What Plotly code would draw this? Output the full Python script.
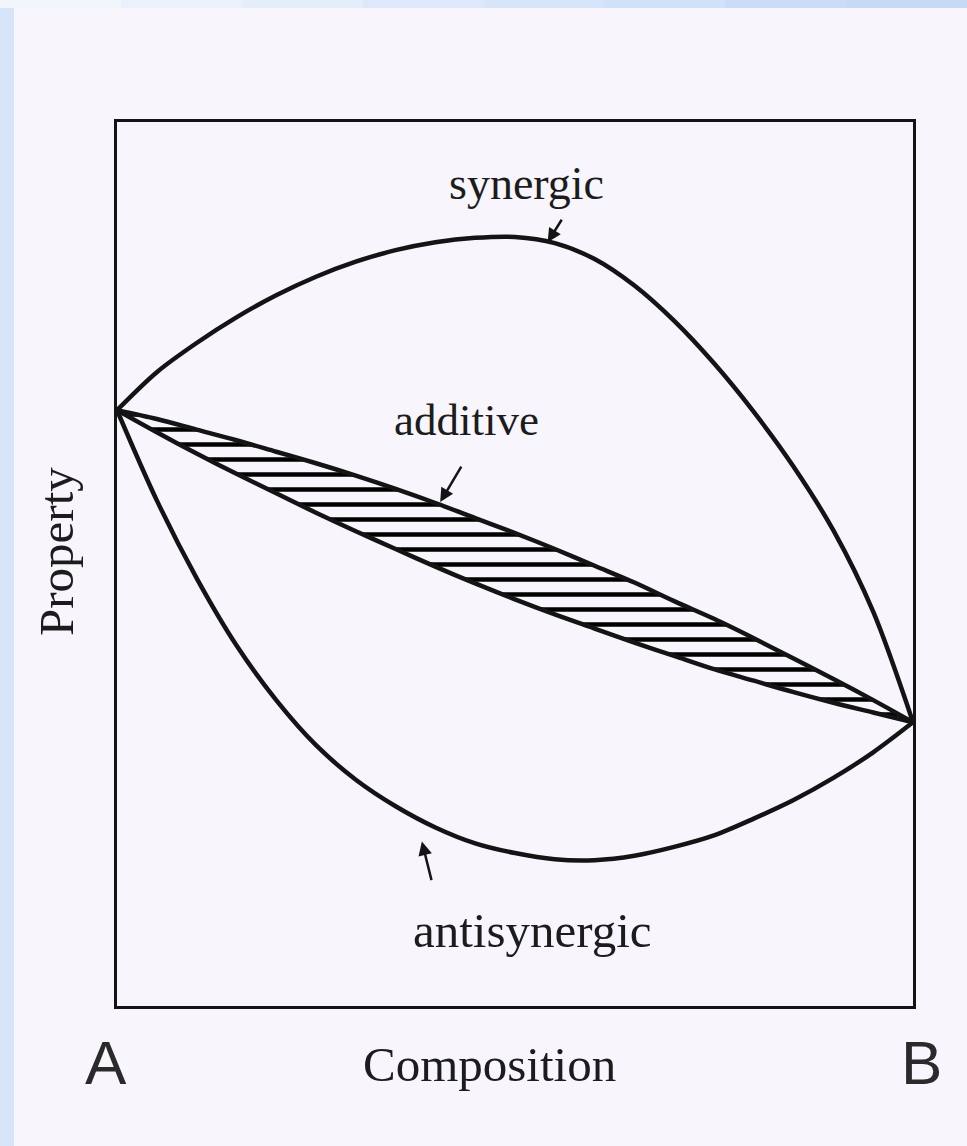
import plotly.graph_objects as go

# Composition axis, A (0) to B (100)
composition = [0, 5, 10, 15, 20, 25, 30, 35, 40, 45, 50,
               55, 60, 65, 70, 75, 80, 85, 90, 95, 100]

# Property values of the blend for each behaviour
synergic = [67.4, 71.7, 75.0, 77.9, 80.4, 82.5, 84.2, 85.5, 86.4, 86.9, 87.0,
            86.3, 84.5, 81.5, 77.5, 72.7, 67.2, 61.0, 53.8, 44.6, 32.1]
antisynergic = [67.4, 57.2, 48.4, 40.8, 34.6, 29.5, 25.6, 22.6, 20.2, 18.4, 17.3,
                16.6, 16.5, 17.0, 18.0, 19.3, 21.2, 23.3, 25.8, 28.7, 32.1]
additive_upper = [67.4, 66.4, 65.2, 64.0, 62.7, 61.4, 60.0, 58.5, 56.9, 55.2, 53.5,
                  51.7, 49.8, 47.9, 45.8, 43.8, 41.6, 39.3, 37.0, 34.6, 32.1]
additive_lower = [67.4, 64.9, 62.5, 60.2, 58.0, 55.8, 53.7, 51.7, 49.7, 47.8, 46.0,
                  44.3, 42.7, 41.1, 39.6, 38.1, 36.8, 35.5, 34.3, 33.2, 32.1]

BG = "#f8f6fc"
INK = "#141414"
SERIF = "Liberation Serif"

fig = go.Figure()

curve = dict(color=INK, width=4.5, shape="spline", smoothing=0.9)

# hatched additive band
fig.add_trace(go.Scatter(x=composition, y=additive_lower, mode="lines", line=curve,
                         hoverinfo="skip", showlegend=False))
fig.add_trace(go.Scatter(x=composition, y=additive_upper, mode="lines", line=curve,
                         fill="tonexty", fillcolor=BG,
                         fillpattern=dict(shape="-", size=15, solidity=0.3,
                                          fgcolor="#000000", fgopacity=1, bgcolor=BG),
                         hoverinfo="skip", showlegend=False))
fig.add_trace(go.Scatter(x=composition, y=synergic, mode="lines", line=curve,
                         hoverinfo="skip", showlegend=False))
fig.add_trace(go.Scatter(x=composition, y=antisynergic, mode="lines", line=curve,
                         hoverinfo="skip", showlegend=False))

# plot box in page pixels, used to place the outer labels
L, R, T, B = 117, 913, 122, 1006
def px_x(p):
    return (p - L) / (R - L)
def px_y(p):
    return (B - p) / (B - T)

label_font = dict(family=SERIF, size=46, color="#1c1c1c")
big_font = dict(family=SERIF, size=49, color="#1c1c1c")
letter_font = dict(family="Liberation Sans", size=62, color="#2a2a2a")
arrow = dict(showarrow=True, arrowhead=2, arrowsize=1.1, arrowwidth=2.5, arrowcolor=INK)
centred = dict(showarrow=False, xanchor="center", yanchor="middle")

annotations = [
    dict(x=54.1, y=86.4, ax=15, ay=-24, text="", **arrow),
    dict(x=40.6, y=57.0, ax=22, ay=-37, text="", **arrow),
    dict(x=38.3, y=18.6, ax=10, ay=40, text="", **arrow),
    dict(x=51.5, y=93.0, text="synergic", font=label_font, **centred),
    dict(x=43.9, y=66.3, text="additive", font=dict(label_font, size=45), **centred),
    dict(x=52.2, y=8.5, text="antisynergic", font=big_font, **centred),
    dict(xref="paper", yref="paper", x=px_x(489), y=px_y(1064), text="Composition",
         font=big_font, **centred),
    dict(xref="paper", yref="paper", x=px_x(56), y=px_y(552), text="Property",
         textangle=-90, font=big_font, **centred),
    dict(xref="paper", yref="paper", x=px_x(106), y=px_y(1062), text="A",
         font=letter_font, **centred),
    dict(xref="paper", yref="paper", x=px_x(921), y=px_y(1062), text="B",
         font=letter_font, **centred),
]

# pale blue frame strips along the left and top edges of the page
shapes = [dict(type="rect", xref="paper", yref="paper", x0=px_x(0), x1=px_x(14),
               y0=px_y(1146), y1=px_y(0), fillcolor="#d6e5fa", line_width=0, layer="below")]
top_blues = ["#f1f5fc", "#ebf1fc", "#e4eefb", "#dde9fa", "#d6e5fa", "#d0e1f9", "#cadcf8", "#c6daf8"]
seg = 967 / len(top_blues)
for i, c in enumerate(top_blues):
    shapes.append(dict(type="rect", xref="paper", yref="paper",
                       x0=px_x(i * seg), x1=px_x((i + 1) * seg + 1),
                       y0=px_y(8), y1=px_y(0), fillcolor=c, line_width=0, layer="below"))

axis = dict(range=[0, 100], showgrid=False, zeroline=False, showticklabels=False,
            ticks="", showline=True, mirror=True, linecolor=INK, linewidth=3, fixedrange=True)

fig.update_layout(
    width=967, height=1146,
    margin=dict(l=L, r=967 - R, t=T, b=1146 - B),
    paper_bgcolor=BG, plot_bgcolor=BG,
    xaxis=axis, yaxis=axis,
    annotations=annotations, shapes=shapes,
    showlegend=False,
)

fig.write_html("out.html")
